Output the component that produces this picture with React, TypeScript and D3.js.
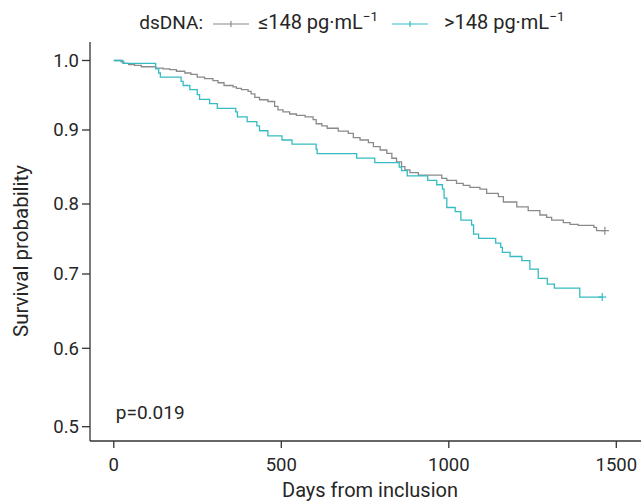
import React, { useEffect } from 'react';
import * as d3 from 'd3';

// survival curves (days, survival after each drop)
const lowDays = [22, 30, 44, 62, 82, 125, 147, 167, 187, 212, 230, 249, 271, 296, 311, 329, 356, 366, 381, 401, 410, 421, 435, 460, 480, 490, 505, 525, 545, 571, 595, 604, 621, 637, 670, 700, 715, 735, 760, 775, 795, 815, 830, 844, 859, 869, 884, 909, 979, 994, 1023, 1043, 1063, 1093, 1113, 1148, 1163, 1203, 1237, 1272, 1292, 1307, 1342, 1362, 1386, 1433, 1441];
const lowSurv = [0.998, 0.996, 0.994, 0.993, 0.991, 0.989, 0.988, 0.987, 0.9845, 0.982, 0.98, 0.976, 0.974, 0.971, 0.968, 0.964, 0.962, 0.96, 0.958, 0.9555, 0.952, 0.947, 0.9435, 0.941, 0.934, 0.929, 0.926, 0.923, 0.921, 0.919, 0.915, 0.909, 0.906, 0.9025, 0.8986, 0.8955, 0.8896, 0.8865, 0.883, 0.8774, 0.873, 0.8685, 0.8618, 0.857, 0.8504, 0.846, 0.8423, 0.839, 0.8347, 0.832, 0.828, 0.8253, 0.8226, 0.82, 0.8144, 0.81, 0.8027, 0.796, 0.7904, 0.7843, 0.781, 0.7771, 0.7733, 0.771, 0.7696, 0.7667, 0.7619];
const lowLast = 1466;

const highDays = [27, 125, 134, 139, 201, 207, 227, 249, 256, 286, 309, 364, 369, 398, 427, 435, 460, 502, 532, 604, 607, 725, 779, 852, 859, 876, 937, 964, 981, 986, 994, 1019, 1036, 1068, 1074, 1089, 1140, 1155, 1160, 1183, 1218, 1242, 1267, 1294, 1315, 1391];
const highSurv = [0.996, 0.988, 0.982, 0.976, 0.97, 0.964, 0.958, 0.951, 0.944, 0.938, 0.931, 0.926, 0.919, 0.912, 0.906, 0.899, 0.892, 0.8865, 0.881, 0.874, 0.868, 0.862, 0.856, 0.85, 0.845, 0.838, 0.832, 0.826, 0.82, 0.808, 0.795, 0.789, 0.777, 0.77, 0.757, 0.751, 0.744, 0.738, 0.731, 0.725, 0.719, 0.707, 0.694, 0.6865, 0.681, 0.669];
const highLast = 1458;

const xTicks = [0, 500, 1000, 1500];
const yTicks = [0.5, 0.6, 0.7, 0.8, 0.9, 1.0];
const pValue = 'p=0.019';

const GREY = '#8a8a8a';
const TEAL = '#35bcc2';
const INK = '#262626';
const FONT = 'Roboto, sans-serif';

const W = 641;
const H = 502;

const x = d3.scaleLinear().domain([0, 1500]).range([113.8, 616.3]);
// the printed y axis is not evenly spaced, follow its ticks
const y = d3.scaleLinear().domain(yTicks).range([426.7, 348.3, 274, 204, 130, 60.5]);

const steps = (days: number[], surv: number[], last: number): [number, number][] => {
  const pts: [number, number][] = [[0, 1]];
  days.forEach((d, i) => pts.push([d, surv[i]]));
  pts.push([last, surv[surv.length - 1]]);
  return pts;
};

const line = d3.line<[number, number]>()
  .x(d => x(d[0]))
  .y(d => y(d[1]))
  .curve(d3.curveStepAfter);

const Censor = ({ cx, cy, color }: { cx: number; cy: number; color: string }) => (
  <g stroke={color} strokeWidth={1.2}>
    <line x1={cx - 4} x2={cx + 4} y1={cy} y2={cy} />
    <line x1={cx} x2={cx} y1={cy - 4} y2={cy + 4} />
  </g>
);

const LegendKey = ({ x0, color }: { x0: number; color: string }) => (
  <g stroke={color} strokeWidth={1.2}>
    <line x1={x0} x2={x0 + 36} y1={24} y2={24} />
    <line x1={x0 + 18} x2={x0 + 18} y1={21} y2={27} />
  </g>
);

const Unit = ({ x0, label }: { x0: number; label: string }) => (
  <text x={x0} y={28.5} fontSize={20} fill={INK}>
    {label} pg·mL<tspan fontSize={13.5} dy={-7.5}>−1</tspan>
  </text>
);

export default function App() {
  useEffect(() => {
    document.body.style.margin = '0';
  }, []);

  const low = steps(lowDays, lowSurv, lowLast);
  const high = steps(highDays, highSurv, highLast);
  const plotLeft = 90;
  const plotBottom = 441;

  return (
    <svg width={W} height={H} style={{ display: 'block' }} fontFamily={FONT}>
      <rect width={W} height={H} fill="#fff" />

      {/* legend */}
      <text x={203} y={28.5} fontSize={19} fill={INK} textAnchor="end">dsDNA:</text>
      <LegendKey x0={213} color={GREY} />
      <Unit x0={258} label="≤148" />
      <LegendKey x0={392} color={TEAL} />
      <Unit x0={444} label=">148" />

      {/* axes */}
      <g stroke="#333" strokeWidth={1.3} fill="none">
        <line x1={plotLeft} x2={plotLeft} y1={42} y2={plotBottom} />
        <line x1={plotLeft} x2={W} y1={plotBottom} y2={plotBottom} />
        {xTicks.map(t => (
          <line key={t} x1={x(t)} x2={x(t)} y1={plotBottom} y2={plotBottom + 7} />
        ))}
        {yTicks.map(t => (
          <line key={t} x1={plotLeft - 8} x2={plotLeft} y1={y(t)} y2={y(t)} />
        ))}
      </g>
      {xTicks.map(t => (
        <text key={t} x={x(t)} y={470.5} fontSize={18.5} fill={INK} textAnchor="middle">{t}</text>
      ))}
      {yTicks.map(t => (
        <text key={t} x={79} y={y(t)} dy="0.35em" fontSize={18.5} fill={INK} textAnchor="end">
          {d3.format('.1f')(t)}
        </text>
      ))}
      <text x={370} y={497} fontSize={20} fill={INK} textAnchor="middle">Days from inclusion</text>
      <text transform="translate(27.5,251) rotate(-90)" fontSize={20.5} fill={INK} textAnchor="middle">
        Survival probability
      </text>

      {/* curves */}
      <path d={line(low) ?? ''} fill="none" stroke={GREY} strokeWidth={1.3} />
      <path d={line(high) ?? ''} fill="none" stroke={TEAL} strokeWidth={1.3} />
      <Censor cx={x(lowLast)} cy={y(lowSurv[lowSurv.length - 1])} color={GREY} />
      <Censor cx={x(highLast)} cy={y(highSurv[highSurv.length - 1])} color={TEAL} />

      <text x={x(6)} y={y(0.51)} fontSize={19} fill={INK}>{pValue}</text>
    </svg>
  );
}
